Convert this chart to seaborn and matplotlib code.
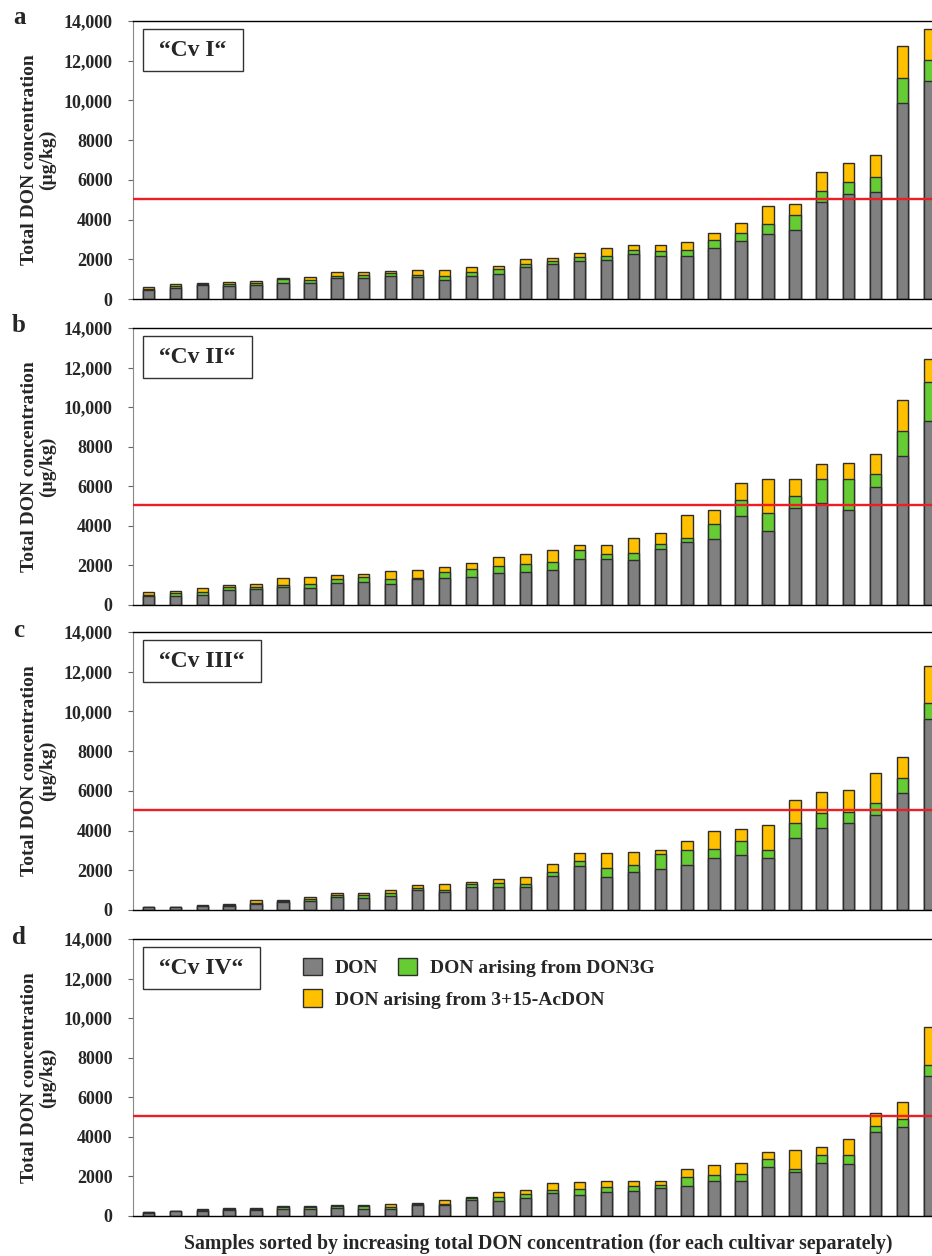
import numpy as np
import pandas as pd
import matplotlib
matplotlib.use("Agg")
import matplotlib.pyplot as plt
import seaborn as sns
from matplotlib.patches import Patch
from matplotlib.ticker import FixedLocator, FixedFormatter

sns.set_theme(style="white")
plt.rcParams["font.family"] = ["Liberation Serif", "DejaVu Serif"]
plt.rcParams["font.weight"] = "bold"

# ---- data (µg/kg), samples sorted by total DON within each cultivar ----
cultivars = ["\u201cCv I\u201c", "\u201cCv II\u201c", "\u201cCv III\u201c", "\u201cCv IV\u201c"]
panel_letters = ["a", "b", "c", "d"]

don_cv1 = [450, 560, 690, 660, 690, 820, 820, 1060, 1080, 1160, 1130, 960, 1160, 1240, 1630,
           1750, 1900, 1950, 2290, 2150, 2150, 2550, 2910, 3260, 3500, 4870, 5280, 5410, 9880, 10990]
don3g_cv1 = [70, 100, 50, 100, 120, 180, 160, 100, 140, 170, 100, 200, 180, 260, 120,
             170, 220, 230, 200, 290, 300, 420, 400, 520, 750, 580, 590, 720, 1250, 1040]
acdon_cv1 = [70, 100, 50, 80, 100, 40, 130, 180, 120, 60, 220, 290, 260, 180, 250,
             130, 180, 370, 220, 270, 410, 340, 510, 880, 510, 970, 1000, 1100, 1630, 1570]

don_cv2 = [470, 470, 520, 760, 790, 930, 860, 1100, 1160, 1050, 1300, 1380, 1400, 1600, 1690,
           1790, 2310, 2310, 2260, 2820, 3200, 3360, 4520, 3760, 4890, 5160, 4810, 5970, 7550, 9290]
don3g_cv2 = [50, 120, 140, 170, 140, 80, 190, 220, 240, 280, 70, 270, 400, 390, 370,
             400, 470, 250, 350, 280, 190, 750, 790, 880, 640, 1210, 1560, 660, 1240, 1990]
acdon_cv2 = [120, 120, 180, 80, 130, 340, 370, 200, 150, 370, 380, 270, 310, 460, 540,
             580, 240, 460, 800, 530, 1180, 710, 880, 1730, 840, 760, 830, 1010, 1580, 1150]

don_cv3 = [150, 150, 200, 200, 280, 380, 470, 660, 590, 720, 1030, 930, 1160, 1140, 1140,
           1700, 2240, 1650, 1900, 2080, 2290, 2640, 2790, 2640, 3650, 4150, 4400, 4760, 5870, 9610]
don3g_cv3 = [15, 15, 20, 50, 70, 50, 80, 80, 150, 150, 100, 60, 130, 200, 150,
             200, 210, 480, 390, 730, 720, 440, 710, 400, 720, 720, 560, 650, 800, 810]
acdon_cv3 = [10, 10, 20, 40, 140, 60, 90, 100, 130, 120, 110, 300, 100, 220, 360,
             400, 410, 730, 620, 200, 450, 890, 600, 1260, 1190, 1050, 1060, 1510, 1010, 1870]

don_cv4 = [170, 240, 250, 290, 300, 350, 350, 390, 370, 340, 560, 560, 830, 740, 890,
           1150, 1050, 1200, 1250, 1400, 1500, 1750, 1750, 2460, 2210, 2660, 2610, 4250, 4490, 7100]
don3g_cv4 = [20, 20, 70, 60, 50, 120, 120, 100, 140, 120, 60, 60, 80, 200, 210,
             150, 300, 250, 250, 150, 460, 340, 370, 410, 150, 410, 460, 290, 400, 510]
acdon_cv4 = [10, 10, 50, 70, 70, 50, 50, 80, 60, 160, 50, 190, 70, 260, 200,
             350, 350, 300, 250, 200, 420, 470, 540, 350, 960, 400, 810, 650, 890, 1950]

don_series = [don_cv1, don_cv2, don_cv3, don_cv4]
don3g_series = [don3g_cv1, don3g_cv2, don3g_cv3, don3g_cv4]
acdon_series = [acdon_cv1, acdon_cv2, acdon_cv3, acdon_cv4]

limit_value = 5060
ytick_values = [0, 2000, 4000, 6000, 8000, 10000, 12000, 14000]
ytick_labels = ["0", "2000", "4000", "6000", "8000", "10,000", "12,000", "14,000"]

legend_labels = ["DON", "DON arising from DON3G", "DON arising from 3+15-AcDON"]
ylabel_text = "Total DON concentration\n(\u00b5g/kg)"
xlabel_text = "Samples sorted by increasing total DON concentration (for each cultivar separately)"

# ---- styling ----
C_DON = "#808080"
C_G = "#66cc33"
C_AC = "#ffc000"
C_EDGE = "#2e2e2e"
C_LIMIT = "#ee1c25"

W, H = 932, 1256
fig = plt.figure(figsize=(W / 100, H / 100), dpi=100)

ax_left, ax_right = 133, 932
panel_tops = [21, 328, 632, 939]
panel_bottoms = [299, 605, 910, 1216]
letter_y = [17, 325, 630, 937]

for i in range(4):
    top, bot = panel_tops[i], panel_bottoms[i]
    ax = fig.add_axes([ax_left / W, 1 - bot / H, (ax_right - ax_left) / W, (bot - top) / H])

    df = pd.DataFrame({
        "sample": np.arange(len(don_series[i])),
        "DON": don_series[i],
        "DON3G": don3g_series[i],
        "AcDON": acdon_series[i],
    })
    df["to_green"] = df["DON"] + df["DON3G"]
    df["total"] = df["to_green"] + df["AcDON"]

    # stacked look: full total (yellow), then DON+DON3G (green), then DON (grey) on top
    common = dict(data=df, x="sample", width=0.42, saturation=1, errorbar=None,
                  edgecolor=C_EDGE, linewidth=1.0, ax=ax)
    sns.barplot(y="total", color=C_AC, **common)
    sns.barplot(y="to_green", color=C_G, **common)
    sns.barplot(y="DON", color=C_DON, **common)

    ax.axhline(limit_value, color=C_LIMIT, lw=1.7, zorder=5)

    ax.set_xlim(-0.568, 29.09)
    ax.set_ylim(0, 14000)
    ax.set_xticks([])
    ax.set_xlabel("")
    ax.yaxis.set_major_locator(FixedLocator(ytick_values))
    ax.yaxis.set_major_formatter(FixedFormatter(ytick_labels))
    ax.tick_params(axis="y", left=True, direction="out", length=3.6, width=0.8,
                   color="#666666", pad=11, labelsize=13)
    for lab in ax.get_yticklabels():
        lab.set_fontweight("bold")

    ax.spines["right"].set_visible(False)
    ax.spines["top"].set_color("black")
    ax.spines["top"].set_linewidth(1.0)
    ax.spines["bottom"].set_color("black")
    ax.spines["bottom"].set_linewidth(1.0)
    ax.spines["left"].set_color("#888888")
    ax.spines["left"].set_linewidth(0.8)

    ax.set_ylabel(ylabel_text, fontsize=14, fontweight="bold", linespacing=1.05)
    ax.yaxis.set_label_coords(-0.096, 0.5)

    ax.annotate(" " + cultivars[i] + " ", xy=(0, 1), xycoords="axes fraction",
                xytext=(14.5, -13.5), textcoords="offset points", ha="left", va="top",
                fontsize=17, fontweight="bold", zorder=6,
                bbox=dict(boxstyle="square,pad=0.45", fc="white", ec="#333333", lw=1.0))

    fig.text(19 / W, 1 - letter_y[i] / H, panel_letters[i], fontsize=18,
             fontweight="bold", ha="center", va="center")

    if i == 3:
        handles = [Patch(facecolor=c, edgecolor=C_EDGE, lw=1.0) for c in (C_DON, C_G, C_AC)]
        leg_kw = dict(frameon=False, prop={"weight": "bold", "size": 14}, handlelength=1.0,
                      handleheight=1.0, handletextpad=0.65, columnspacing=1.0,
                      borderaxespad=0, borderpad=0, loc="upper left")
        leg1 = ax.legend(handles[:2], legend_labels[:2], ncol=2,
                         bbox_to_anchor=(0.2128, 0.933), **leg_kw)
        ax.add_artist(leg1)
        ax.legend(handles[2:], legend_labels[2:], bbox_to_anchor=(0.2128, 0.818), **leg_kw)

fig.text(538 / W, 1 - 1244 / H, xlabel_text, fontsize=14.2, fontweight="bold",
         ha="center", va="center")

fig.savefig("out.png", dpi=100)
